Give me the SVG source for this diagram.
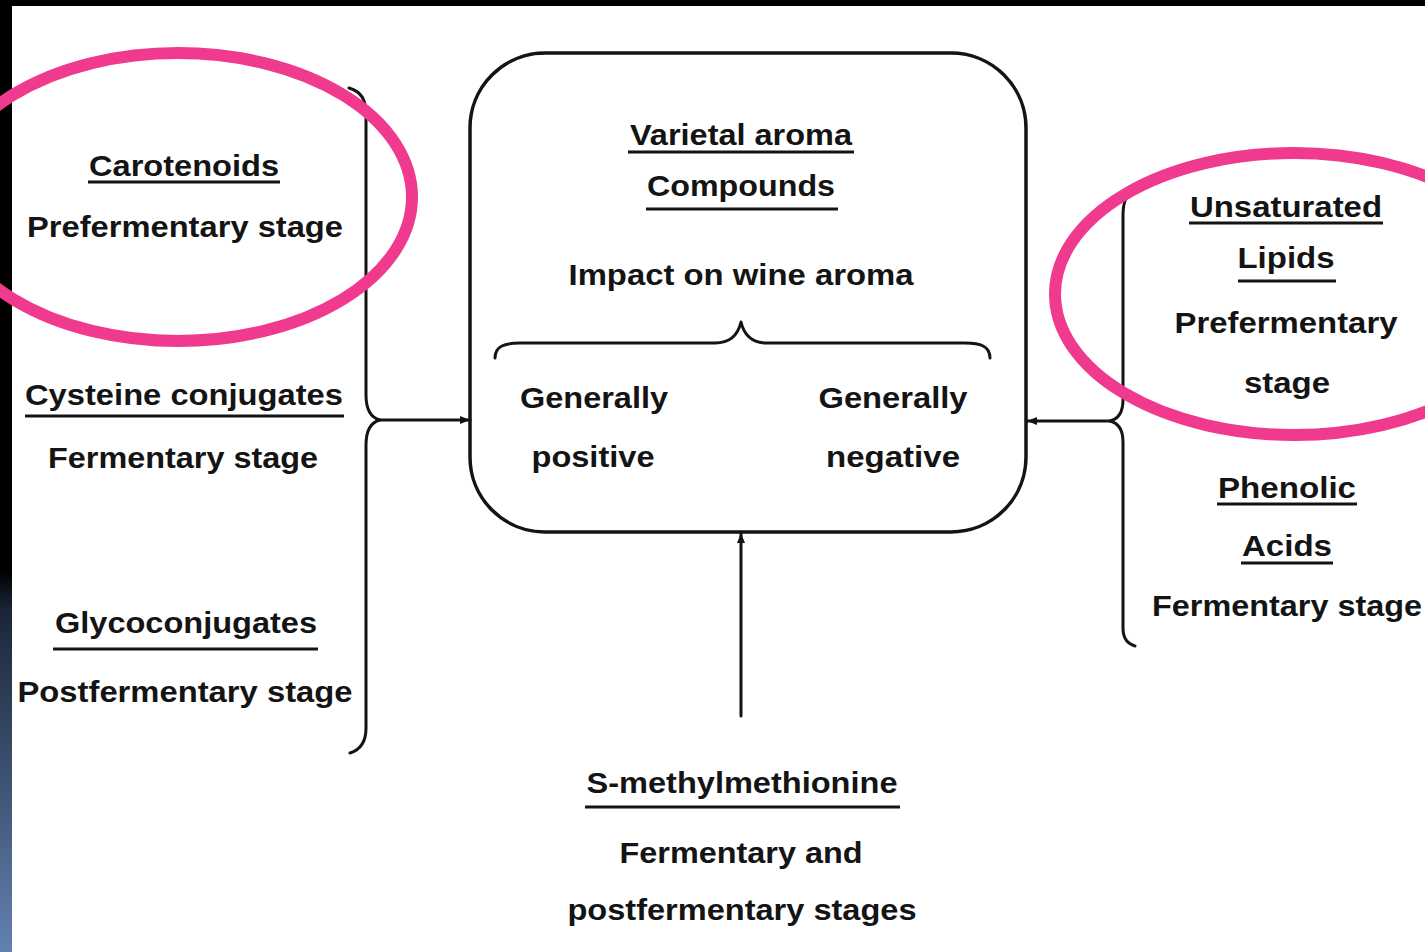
<svg xmlns="http://www.w3.org/2000/svg" width="1425" height="952" viewBox="0 0 1425 952">
<style>
.t{font-family:"Liberation Sans",Arial,sans-serif;font-weight:bold;font-size:30px;fill:#141414;text-anchor:middle}
.u{stroke:#141414;stroke-width:3}
.ln{fill:none;stroke:#141414;stroke-width:3;stroke-linecap:round;stroke-linejoin:round}
.ring{fill:none;stroke:#ef3a8e;stroke-width:12}
</style>
<defs>
<linearGradient id="side" x1="0" y1="0" x2="0" y2="1">
<stop offset="0" stop-color="#000"/>
<stop offset="0.6" stop-color="#000"/>
<stop offset="0.64" stop-color="#1b2537"/>
<stop offset="1" stop-color="#6281b0"/>
</linearGradient>
<marker id="ah" viewBox="0 0 10 8" refX="10" refY="4" markerWidth="10" markerHeight="8" markerUnits="userSpaceOnUse" orient="auto">
<path d="M0,0 L10,4 L0,8 z" fill="#141414"/>
</marker>
</defs>
<rect x="0" y="0" width="1425" height="952" fill="#fff"/>
<rect x="0" y="0" width="1425" height="6" fill="#000"/>
<rect x="0" y="0" width="12" height="952" fill="url(#side)"/>

<g id="connectors">
<path class="ln" d="M349,88 C362,92 366,100 366,115 L366,395 C366,412 372,418 380,420 C372,422 366,428 366,445 L366,728 C366,742 360,750 350,753"/>
<path class="ln" d="M380,420 L470,420" marker-end="url(#ah)"/>
<path class="ln" d="M1135,190 C1126,194 1123,202 1123,215 L1123,400 C1123,412 1118,419 1110,421 C1118,423 1123,430 1123,442 L1123,628 C1123,638 1128,644 1135,646"/>
<path class="ln" d="M1110,421 L1027,421" marker-end="url(#ah)"/>
<path class="ln" d="M741,716 L741,533" marker-end="url(#ah)"/>
</g>

<g id="center">
<rect x="470" y="53" width="556" height="479" rx="75" ry="75" fill="none" stroke="#141414" stroke-width="3.5"/>
<text class="t" x="741" y="145" textLength="222" lengthAdjust="spacingAndGlyphs">Varietal aroma</text>
<line class="u" x1="628" y1="152" x2="854" y2="152"/>
<text class="t" x="741" y="196" textLength="188" lengthAdjust="spacingAndGlyphs">Compounds</text>
<line class="u" x1="646" y1="209" x2="838" y2="209"/>
<text class="t" x="741" y="285" textLength="345" lengthAdjust="spacingAndGlyphs">Impact on wine aroma</text>
<path class="ln" d="M495,358 C495,346 505,343 520,343 L715,343 C730,343 738,335 741,322 C744,335 752,343 767,343 L965,343 C980,343 990,346 990,358"/>
<text class="t" x="594" y="408" textLength="148" lengthAdjust="spacingAndGlyphs">Generally</text>
<text class="t" x="593" y="467" textLength="123" lengthAdjust="spacingAndGlyphs">positive</text>
<text class="t" x="893" y="408" textLength="149" lengthAdjust="spacingAndGlyphs">Generally</text>
<text class="t" x="893" y="467" textLength="134" lengthAdjust="spacingAndGlyphs">negative</text>
</g>

<g id="carotenoids">
<text class="t" x="184" y="176" textLength="190" lengthAdjust="spacingAndGlyphs">Carotenoids</text>
<line class="u" x1="88" y1="182" x2="280" y2="182"/>
<text class="t" x="185" y="237" textLength="316" lengthAdjust="spacingAndGlyphs">Prefermentary stage</text>
</g>

<g id="cysteine">
<text class="t" x="184" y="405" textLength="318" lengthAdjust="spacingAndGlyphs">Cysteine conjugates</text>
<line class="u" x1="25" y1="416" x2="344" y2="416"/>
<text class="t" x="183" y="468" textLength="270" lengthAdjust="spacingAndGlyphs">Fermentary stage</text>
</g>

<g id="glyco">
<text class="t" x="186" y="633" textLength="262" lengthAdjust="spacingAndGlyphs">Glycoconjugates</text>
<line class="u" x1="53" y1="649" x2="318" y2="649"/>
<text class="t" x="185" y="702" textLength="335" lengthAdjust="spacingAndGlyphs">Postfermentary stage</text>
</g>

<g id="lipids">
<text class="t" x="1286" y="217" textLength="192" lengthAdjust="spacingAndGlyphs">Unsaturated</text>
<line class="u" x1="1189" y1="223" x2="1383" y2="223"/>
<text class="t" x="1286" y="268" textLength="97" lengthAdjust="spacingAndGlyphs">Lipids</text>
<line class="u" x1="1238" y1="281" x2="1336" y2="281"/>
<text class="t" x="1286" y="333" textLength="223" lengthAdjust="spacingAndGlyphs">Prefermentary</text>
<text class="t" x="1287" y="393" textLength="86" lengthAdjust="spacingAndGlyphs">stage</text>
</g>

<g id="phenolic">
<text class="t" x="1287" y="498" textLength="138" lengthAdjust="spacingAndGlyphs">Phenolic</text>
<line class="u" x1="1217" y1="504" x2="1357" y2="504"/>
<text class="t" x="1287" y="556" textLength="90" lengthAdjust="spacingAndGlyphs">Acids</text>
<line class="u" x1="1241" y1="563" x2="1333" y2="563"/>
<text class="t" x="1287" y="616" textLength="270" lengthAdjust="spacingAndGlyphs">Fermentary stage</text>
</g>

<g id="smm">
<text class="t" x="742" y="793" textLength="311" lengthAdjust="spacingAndGlyphs">S-methylmethionine</text>
<line class="u" x1="585" y1="807" x2="900" y2="807"/>
<text class="t" x="741" y="863" textLength="243" lengthAdjust="spacingAndGlyphs">Fermentary and</text>
<text class="t" x="742" y="920" textLength="349" lengthAdjust="spacingAndGlyphs">postfermentary stages</text>
</g>

<g id="highlights">
<ellipse class="ring" cx="178" cy="197" rx="234" ry="144"/>
<ellipse class="ring" cx="1294" cy="294" rx="239" ry="141"/>
</g>
</svg>
